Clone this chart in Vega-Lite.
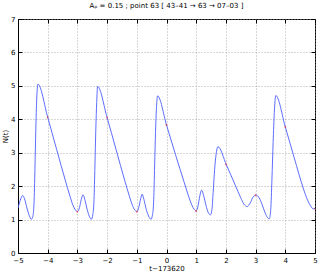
{
  "$schema": "https://vega.github.io/schema/vega-lite/v6.json",
  "width": 297,
  "height": 234,
  "autosize": "none",
  "padding": {"left": 18, "top": 19, "right": 7, "bottom": 20},
  "background": "white",
  "title": {"text": "Aₚ = 0.15 ; point 63 [ 43–41 → 63 → 07–03 ]", "fontSize": 7, "fontWeight": "normal", "font": "DejaVu Sans", "color": "#000", "offset": 6},
  "config": {
    "font": "DejaVu Sans",
    "view": {"stroke": "#000", "strokeWidth": 1},
    "axis": {"domainColor": "#000", "tickColor": "#000", "tickSize": -4, "labelFontSize": 7, "labelColor": "#000", "labelPadding": 7, "titleFontSize": 7, "titleFontWeight": "normal", "titleColor": "#000", "gridDash": [1, 2], "gridColor": "#999", "gridWidth": 0.8}
  },
  "datasets": {
    "curve": [
      {"t": -5, "n": 1.35}, {"t": -4.95, "n": 1.5}, {"t": -4.9, "n": 1.64}, {"t": -4.84, "n": 1.72}, {"t": -4.78, "n": 1.62}, {"t": -4.7, "n": 1.35}, {"t": -4.62, "n": 1.12}, {"t": -4.55, "n": 1.01}, {"t": -4.5, "n": 1.1}, {"t": -4.46, "n": 1.5}, {"t": -4.43, "n": 2.5}, {"t": -4.4, "n": 3.7}, {"t": -4.37, "n": 4.6}, {"t": -4.33, "n": 5.05},
      {"t": -4.0, "n": 4.06}, {"t": -3.7, "n": 3.1}, {"t": -3.4, "n": 2.15}, {"t": -3.25, "n": 1.7}, {"t": -3.15, "n": 1.43}, {"t": -3.07, "n": 1.29}, {"t": -3.0, "n": 1.24}, {"t": -2.93, "n": 1.36}, {"t": -2.87, "n": 1.6}, {"t": -2.81, "n": 1.74}, {"t": -2.75, "n": 1.6}, {"t": -2.67, "n": 1.3}, {"t": -2.6, "n": 1.1}, {"t": -2.53, "n": 1.01}, {"t": -2.48, "n": 1.15}, {"t": -2.44, "n": 1.6}, {"t": -2.41, "n": 2.6}, {"t": -2.38, "n": 3.7}, {"t": -2.35, "n": 4.5}, {"t": -2.32, "n": 4.98},
      {"t": -2.0, "n": 4.05}, {"t": -1.7, "n": 3.1}, {"t": -1.4, "n": 2.15}, {"t": -1.25, "n": 1.7}, {"t": -1.15, "n": 1.43}, {"t": -1.07, "n": 1.29}, {"t": -0.99, "n": 1.24}, {"t": -0.93, "n": 1.38}, {"t": -0.87, "n": 1.62}, {"t": -0.82, "n": 1.76}, {"t": -0.76, "n": 1.6}, {"t": -0.68, "n": 1.3}, {"t": -0.6, "n": 1.1}, {"t": -0.52, "n": 1.01}, {"t": -0.47, "n": 1.15}, {"t": -0.43, "n": 1.6}, {"t": -0.4, "n": 2.6}, {"t": -0.37, "n": 3.6}, {"t": -0.34, "n": 4.3}, {"t": -0.3, "n": 4.7},
      {"t": 0.0, "n": 3.83}, {"t": 0.3, "n": 2.95}, {"t": 0.6, "n": 2.1}, {"t": 0.75, "n": 1.68}, {"t": 0.85, "n": 1.44}, {"t": 0.93, "n": 1.31}, {"t": 1.0, "n": 1.26}, {"t": 1.06, "n": 1.4}, {"t": 1.12, "n": 1.7}, {"t": 1.18, "n": 1.88}, {"t": 1.25, "n": 1.72}, {"t": 1.33, "n": 1.42}, {"t": 1.41, "n": 1.2}, {"t": 1.48, "n": 1.14}, {"t": 1.53, "n": 1.3}, {"t": 1.57, "n": 1.8}, {"t": 1.62, "n": 2.5}, {"t": 1.67, "n": 2.95}, {"t": 1.73, "n": 3.18},
      {"t": 2.02, "n": 2.63}, {"t": 2.31, "n": 2.04}, {"t": 2.5, "n": 1.65}, {"t": 2.6, "n": 1.47}, {"t": 2.72, "n": 1.39}, {"t": 2.82, "n": 1.5}, {"t": 2.92, "n": 1.68}, {"t": 3.02, "n": 1.73}, {"t": 3.12, "n": 1.65}, {"t": 3.22, "n": 1.45}, {"t": 3.32, "n": 1.2}, {"t": 3.4, "n": 1.06}, {"t": 3.46, "n": 1.02}, {"t": 3.51, "n": 1.3}, {"t": 3.55, "n": 2.2}, {"t": 3.59, "n": 3.3}, {"t": 3.63, "n": 4.2}, {"t": 3.68, "n": 4.71},
      {"t": 4.0, "n": 3.77}, {"t": 4.3, "n": 2.85}, {"t": 4.6, "n": 1.95}, {"t": 4.75, "n": 1.58}, {"t": 4.85, "n": 1.41}, {"t": 4.94, "n": 1.32}, {"t": 5.0, "n": 1.33}
    ],
    "dots": [
      {"t": -4, "n": 4.06}, {"t": -3, "n": 1.24}, {"t": -2, "n": 4.05}, {"t": -1, "n": 1.24}, {"t": 0, "n": 3.83}, {"t": 1, "n": 1.26}, {"t": 2, "n": 2.65}, {"t": 3, "n": 1.73}, {"t": 4, "n": 3.77}, {"t": 5, "n": 1.33}
    ]
  },
  "layer": [
    {
      "data": {"name": "curve"},
      "mark": {"type": "line", "color": "#4a5cff", "strokeWidth": 0.9, "interpolate": "monotone", "clip": true},
      "encoding": {
        "x": {"field": "t", "type": "quantitative", "scale": {"domain": [-5, 5], "nice": false}, "axis": {"values": [-5, -4, -3, -2, -1, 0, 1, 2, 3, 4, 5], "title": "t−173620", "titlePadding": 1, "grid": true, "labelFlush": false}},
        "y": {"field": "n", "type": "quantitative", "scale": {"domain": [0, 7], "nice": false}, "axis": {"values": [0, 1, 2, 3, 4, 5, 6, 7], "title": "N(t)", "titlePadding": 2, "grid": true, "labelFlush": false}}
      }
    },
    {
      "data": {"name": "dots"},
      "mark": {"type": "point", "filled": true, "color": "#ff2020", "size": 3, "clip": true},
      "encoding": {
        "x": {"field": "t", "type": "quantitative", "axis": {"orient": "top", "values": [-5, -4, -3, -2, -1, 0, 1, 2, 3, 4, 5], "labels": false, "title": null, "grid": false, "domain": false}},
        "y": {"field": "n", "type": "quantitative", "axis": {"orient": "right", "values": [0, 1, 2, 3, 4, 5, 6, 7], "labels": false, "title": null, "grid": false, "domain": false}}
      }
    }
  ],
  "resolve": {"axis": {"x": "independent", "y": "independent"}}
}
